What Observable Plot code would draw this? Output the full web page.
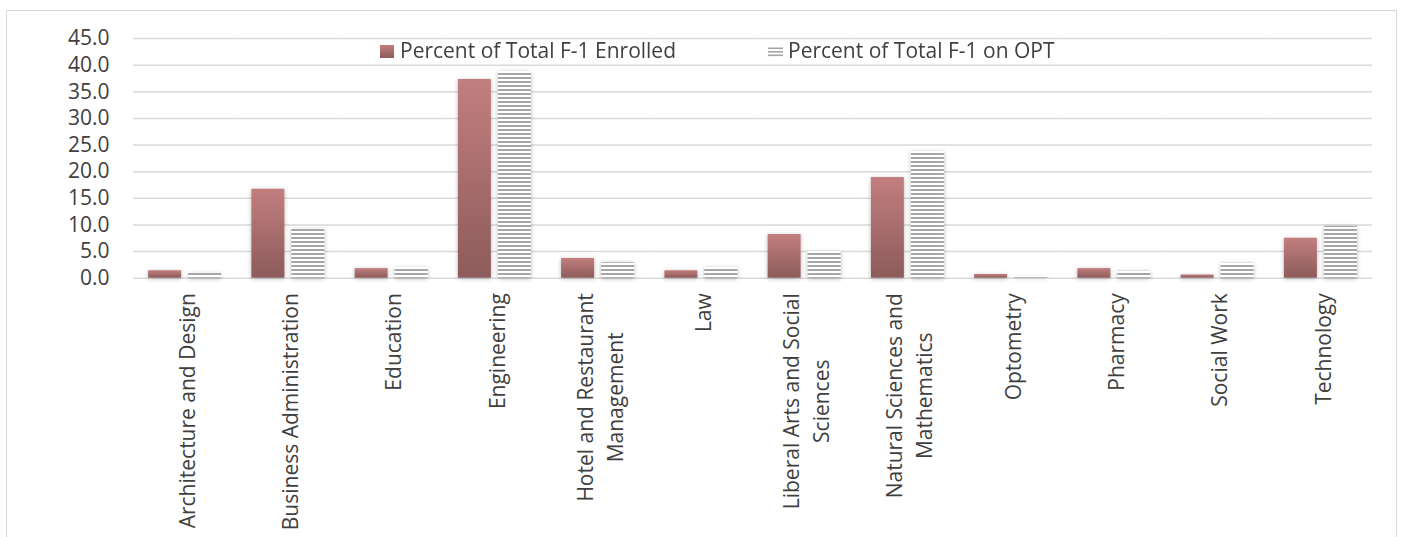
<!DOCTYPE html>
<html><head><meta charset="utf-8">
<script src="https://cdn.jsdelivr.net/npm/d3@7"></script>
<script src="https://cdn.jsdelivr.net/npm/@observablehq/plot@0.6"></script>
<style>
html,body{margin:0;padding:0;background:#fff;overflow:hidden;width:1401px;height:537px;}
#wrap{position:relative;width:1401px;height:537px;}
#frame{position:absolute;left:6px;top:10px;width:1391px;height:600px;border:1.5px solid #d9d9d9;box-sizing:border-box;pointer-events:none;}
.legend{position:absolute;font-family:"Open Sans";font-size:21px;color:#404040;line-height:21px;white-space:nowrap;}
.sw{position:absolute;}
</style></head><body><div id="wrap"></div>
<script>
const categories = ["Architecture and Design","Business Administration","Education","Engineering","Hotel and Restaurant Management","Law","Liberal Arts and Social Sciences","Natural Sciences and Mathematics","Optometry","Pharmacy","Social Work","Technology"];
const tickLabels = ["Architecture and Design","Business Administration","Education","Engineering","Hotel and Restaurant\nManagement","Law","Liberal Arts and Social\nSciences","Natural Sciences and\nMathematics","Optometry","Pharmacy","Social Work","Technology"];
const series = ["Percent of Total F-1 Enrolled","Percent of Total F-1 on OPT"];
const enrolled = [1.4, 16.7, 1.8, 37.3, 3.7, 1.4, 8.2, 18.9, 0.7, 1.8, 0.6, 7.5];
const opt = [0.9, 9.2, 2.0, 38.8, 2.9, 2.0, 5.0, 23.8, 0.2, 1.3, 2.8, 9.7];
const yTicks = [0, 5, 10, 15, 20, 25, 30, 35, 40, 45];

const data = categories.flatMap((c, i) => [
  {category: c, series: series[0], value: enrolled[i]},
  {category: c, series: series[1], value: opt[i]}
]);

const chart = Plot.plot({
  width: 1401,
  height: 537,
  marginLeft: 133,
  marginRight: 29,
  marginTop: 38,
  marginBottom: 259.3,
  style: {fontFamily: "Open Sans", fontSize: "21px", color: "#404040", background: "#fff", overflow: "visible"},
  fx: {domain: categories, paddingInner: 0, paddingOuter: 0, round: false, label: null},
  x: {domain: series, paddingInner: 0.175, paddingOuter: 0.378, round: false, axis: null},
  y: {domain: [0, 45], label: null},
  marks: [
    Plot.gridY(yTicks, {stroke: "#d9d9d9", strokeOpacity: 1, strokeWidth: 1.5}),
    Plot.barY(data, {filter: d => d.series === series[0], fx: "category", x: "series", y: "value", fill: "url(#enrGrad)"}),
    Plot.barY(data, {filter: d => d.series === series[1], fx: "category", x: "series", y: "value", fill: "url(#optStripes)"}),
    Plot.axisY(yTicks, {tickSize: 0, tickPadding: 24, tickFormat: d3.format(".1f"), label: null, fill: "#404040"}),
    Plot.axisFx({anchor: "bottom", tickSize: 0, tickPadding: 15, tickRotate: -90, textAnchor: "end", lineAnchor: "middle", lineHeight: 1.43, label: null, fill: "#404040",
      tickFormat: d => tickLabels[categories.indexOf(d)]})
  ]
});

const wrap = document.getElementById("wrap");
wrap.appendChild(chart);
const frame = document.createElement("div");
frame.id = "frame";
wrap.appendChild(frame);

const svg = d3.select(chart);
const defs = svg.insert("defs", ":first-child");
const grad = defs.append("linearGradient").attr("id", "enrGrad").attr("x1", 0).attr("y1", 0).attr("x2", 0).attr("y2", 1);
grad.append("stop").attr("offset", "0%").attr("stop-color", "#c27e7e");
grad.append("stop").attr("offset", "100%").attr("stop-color", "#8d5b5b");
const pat = defs.append("pattern").attr("id", "optStripes").attr("patternUnits", "userSpaceOnUse").attr("width", 8).attr("height", 4);
pat.append("rect").attr("width", 8).attr("height", 4).attr("fill", "#fff");
pat.append("rect").attr("y", 1).attr("width", 8).attr("height", 2).attr("fill", "#a6a6a6");
const filt = defs.append("filter").attr("id", "shadow").attr("filterUnits", "userSpaceOnUse")
  .attr("x", -500).attr("y", -500).attr("width", 3000).attr("height", 2000);
filt.append("feDropShadow").attr("dx", 0).attr("dy", 1).attr("stdDeviation", 2.2)
  .attr("flood-color", "#000").attr("flood-opacity", 0.28);

svg.selectAll('g[aria-label="bar"]').attr("filter", "url(#shadow)");

svg.selectAll('g[aria-label="fx-axis tick label"] text').each(function() {
  const tspans = this.querySelectorAll("tspan");
  if (tspans.length < 2) return;
  let maxLen = 0;
  tspans.forEach(t => { maxLen = Math.max(maxLen, t.getComputedTextLength()); });
  this.setAttribute("text-anchor", "middle");
  tspans.forEach(t => t.setAttribute("x", -maxLen / 2));
});

// Legend
function addLegend(i, left, swatchSvg) {
  const sw = document.createElement("div");
  sw.className = "sw";
  sw.style.left = left + "px";
  sw.style.top = "45px";
  sw.innerHTML = swatchSvg;
  wrap.appendChild(sw);
  const t = document.createElement("div");
  t.className = "legend";
  t.style.left = (left + 20) + "px";
  t.style.top = "40px";
  t.textContent = series[i];
  wrap.appendChild(t);
}
addLegend(0, 380, '<svg width="14" height="14"><defs><linearGradient id="lg1" x1="0" y1="0" x2="0" y2="1"><stop offset="0%" stop-color="#c27e7e"/><stop offset="100%" stop-color="#8d5b5b"/></linearGradient></defs><rect width="14" height="13" fill="url(#lg1)"/></svg>');
addLegend(1, 768, '<svg width="15" height="14"><rect x="0" y="2.5" width="15" height="1.6" fill="#a6a6a6"/><rect x="0" y="6" width="15" height="1.6" fill="#a6a6a6"/><rect x="0" y="9.5" width="15" height="1.6" fill="#a6a6a6"/></svg>');
</script>
</body></html>
